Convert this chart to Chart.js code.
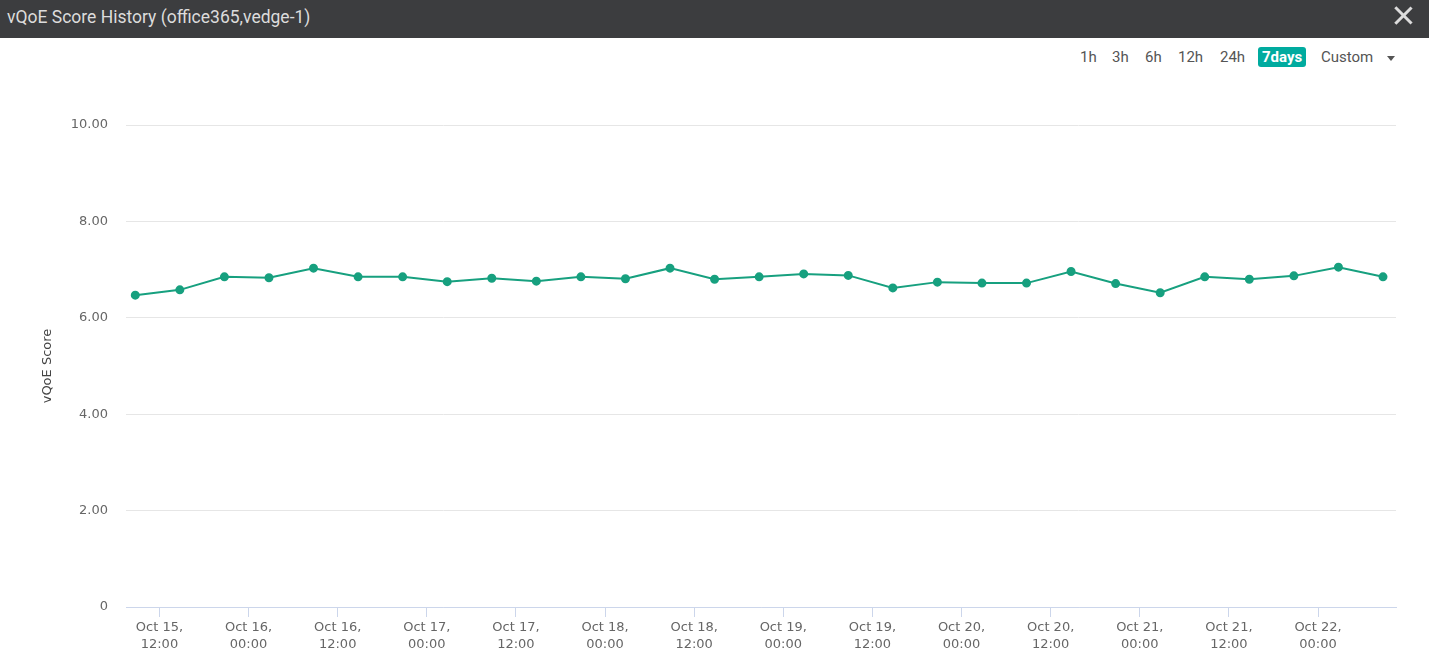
<!DOCTYPE html>
<html>
<head>
<meta charset="utf-8">
<script src="https://cdn.jsdelivr.net/npm/chart.js@4"></script>
<style>
  body { margin: 0; width: 1429px; height: 660px; overflow: hidden; background: #fff; font-family: Roboto, sans-serif; }
  #header { position: absolute; left: 0; top: 0; width: 1429px; height: 38px; background: #3c3d3f; }
  #header .title { position: absolute; left: 7px; top: 7px; color: #dcdcdc; font-size: 17.5px; }
  #close { position: absolute; left: 1393px; top: 5px; width: 20px; height: 20px; }
  #close:before, #close:after { content: ''; position: absolute; left: 9px; top: -1px; width: 2.5px; height: 23px; background: #dcdcdc; }
  #close:before { transform: rotate(45deg); }
  #close:after { transform: rotate(-45deg); }
  .rng { position: absolute; top: 47px; font-size: 15px; color: #555; line-height: 20px; }
  .rng.on { background: #00ab9f; color: #fff; font-weight: bold; border-radius: 3px; padding: 0 4px; }
  #caret { position: absolute; left: 1387px; top: 56px; width: 0; height: 0; border-left: 4px solid transparent; border-right: 4px solid transparent; border-top: 5px solid #555; }
  #wrap { position: absolute; left: 0; top: 38px; width: 1429px; height: 622px; }
</style>
</head>
<body>
<div id="header"><span class="title">vQoE Score History (office365,vedge-1)</span><span id="close"></span></div>
<span class="rng" style="left:1080px">1h</span>
<span class="rng" style="left:1112px">3h</span>
<span class="rng" style="left:1145px">6h</span>
<span class="rng" style="left:1178px">12h</span>
<span class="rng" style="left:1220px">24h</span>
<span class="rng on" style="left:1258px">7days</span>
<span class="rng" style="left:1321px">Custom</span>
<span id="caret"></span>
<div id="wrap"><canvas id="scoreChart"></canvas></div>
<script>
// hours since Oct 15 00:00
const sampleHours = [8.75, 14.75, 20.75, 26.75, 32.75, 38.75, 44.75, 50.75, 56.75, 62.75,
  68.75, 74.75, 80.75, 86.75, 92.75, 98.75, 104.75, 110.75, 116.75, 122.75,
  128.75, 134.75, 140.75, 146.75, 152.75, 158.75, 164.75, 170.75, 176.75];
const scores = [6.47, 6.58, 6.85, 6.83, 7.03, 6.85, 6.85, 6.75, 6.82, 6.76,
  6.85, 6.81, 7.03, 6.80, 6.85, 6.91, 6.88, 6.62, 6.74, 6.72,
  6.72, 6.96, 6.71, 6.52, 6.85, 6.80, 6.87, 7.05, 6.85];

const xTickHours = [12, 24, 36, 48, 60, 72, 84, 96, 108, 120, 132, 144, 156, 168];
const xTickLabels = [
  ['Oct 15,', '12:00'], ['Oct 16,', '00:00'], ['Oct 16,', '12:00'], ['Oct 17,', '00:00'],
  ['Oct 17,', '12:00'], ['Oct 18,', '00:00'], ['Oct 18,', '12:00'], ['Oct 19,', '00:00'],
  ['Oct 19,', '12:00'], ['Oct 20,', '00:00'], ['Oct 20,', '12:00'], ['Oct 21,', '00:00'],
  ['Oct 21,', '12:00'], ['Oct 22,', '00:00']
];
const yTicks = [0, 2, 4, 6, 8, 10];

const points = [];
for (let i = 0; i < sampleHours.length; i++) {
  points.push({x: sampleHours[i], y: scores[i]});
}

const lineColor = '#17a07f';
const labelFont = {family: 'DejaVu Sans', size: 13, lineHeight: 1.3};

const ctx = document.getElementById('scoreChart');
const config = {
  type: 'line',
  data: {
    datasets: [
      {
        label: 'vQoE Score',
        data: points,
        borderColor: lineColor,
        backgroundColor: lineColor,
        borderWidth: 2,
        pointRadius: 3.5,
        pointHoverRadius: 5,
        tension: 0
      }
    ]
  },
  options: {
    responsive: true,
    maintainAspectRatio: false,
    animation: false,
    layout: {
      padding: {left: 40, right: 33, top: 87, bottom: 0}
    },
    plugins: {
      legend: {display: false},
      tooltip: {enabled: false}
    },
    scales: {
      x: {
        type: 'linear',
        min: 7.5,
        max: 178.5,
        afterBuildTicks: (scale) => {
          scale.ticks = xTickHours.map(v => ({value: v}));
        },
        afterFit: (scale) => {
          scale.height = 53;
        },
        border: {display: true, color: '#ccd6eb', width: 1},
        grid: {drawOnChartArea: false, drawTicks: true, tickLength: 10, color: '#ccd6eb'},
        ticks: {
          autoSkip: false,
          maxRotation: 0,
          padding: 2,
          color: '#666',
          font: labelFont,
          callback: (value) => {
            const idx = xTickHours.indexOf(value);
            return idx >= 0 ? xTickLabels[idx] : '';
          }
        }
      },
      y: {
        min: 0,
        max: 10,
        afterBuildTicks: (scale) => {
          scale.ticks = yTicks.map(v => ({value: v}));
        },
        afterFit: (scale) => {
          scale.width = 86;
        },
        border: {display: false},
        grid: {color: '#e6e6e6', drawTicks: false},
        title: {
          display: true,
          text: 'vQoE Score',
          color: '#444',
          font: {family: 'DejaVu Sans', size: 13},
          padding: {top: 0, bottom: 0}
        },
        ticks: {
          padding: 18,
          color: '#666',
          font: labelFont,
          callback: (value) => value === 0 ? '0' : value.toFixed(2)
        }
      }
    }
  }
};

const myChart = new Chart(ctx, config);
</script>
</body>
</html>
